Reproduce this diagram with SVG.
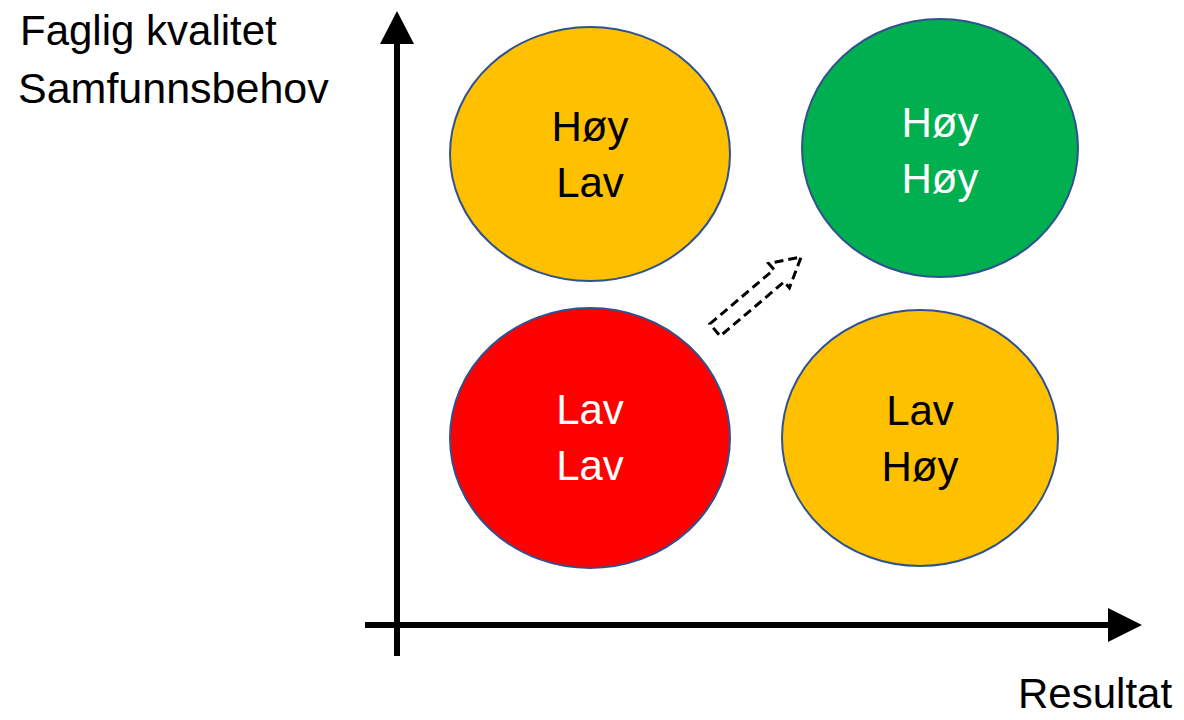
<svg xmlns="http://www.w3.org/2000/svg" width="1184" height="720" viewBox="0 0 1184 720">
<style>
text{font-family:"Liberation Sans",Arial,sans-serif;font-size:42px;}
.c{text-anchor:middle;}
.dark{fill:#000;}
.light{fill:#fff;}
.node{stroke:#2F528F;stroke-width:2;}
.axis{stroke:#000;stroke-width:6;fill:none;}
</style>
<rect width="1184" height="720" fill="#fff"/>
<g id="connectors">
<line class="axis" x1="397" y1="656" x2="397" y2="40"/>
<polygon points="397,11 380,44 414,44" fill="#000"/>
<line class="axis" x1="365" y1="625" x2="1110" y2="625"/>
<polygon points="1142,625 1108,608 1108,642" fill="#000"/>
<polygon transform="translate(715,330) rotate(-40.3)" points="0,-8 84,-8 84,-16 113,0 84,16 84,8 0,8" fill="#fff" stroke="#000" stroke-width="3" stroke-dasharray="9,5"/>
</g>
<g id="label-y">
<text x="20" y="45">Faglig kvalitet</text>
<text x="18" y="103" style="font-size:43px">Samfunnsbehov</text>
</g>
<g id="label-x">
<text x="1018" y="708">Resultat</text>
</g>
<g id="node-hoy-lav">
<ellipse class="node" cx="590" cy="154" rx="140" ry="127" fill="#FFC000"/>
<text class="c dark" x="590" y="141">Høy</text>
<text class="c dark" x="590" y="197">Lav</text>
</g>
<g id="node-hoy-hoy">
<ellipse class="node" cx="940" cy="148" rx="138" ry="129" fill="#00B050"/>
<text class="c light" x="940" y="137">Høy</text>
<text class="c light" x="940" y="193">Høy</text>
</g>
<g id="node-lav-lav">
<ellipse class="node" cx="590" cy="438" rx="140" ry="130" fill="#FF0000"/>
<text class="c light" x="590" y="424">Lav</text>
<text class="c light" x="590" y="480">Lav</text>
</g>
<g id="node-lav-hoy">
<ellipse class="node" cx="920" cy="438" rx="138" ry="128" fill="#FFC000"/>
<text class="c dark" x="920" y="425">Lav</text>
<text class="c dark" x="920" y="481">Høy</text>
</g>
</svg>
